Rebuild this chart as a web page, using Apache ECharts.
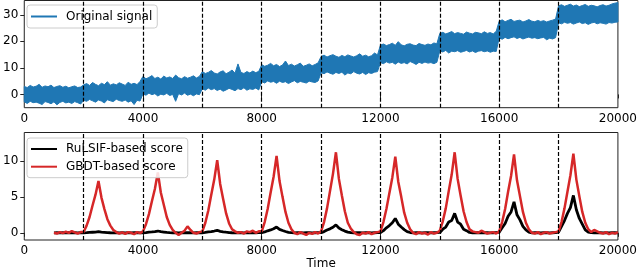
<!DOCTYPE html>
<html><head><meta charset="utf-8">
<script src="https://cdn.jsdelivr.net/npm/echarts@6/dist/echarts.min.js"></script>
<style>html,body{margin:0;padding:0;background:#fff}#c{width:640px;height:271px}</style>
</head><body><div id="c"></div>
<script>
// ---- data ----
const sigStart = 0, sigStep = 100;
const sigUpper = [
 3.0,2.6,3.4,2.8,3.1,3.8,2.7,3.2,2.9,3.5,2.6,3.0,3.3,2.7,3.1,2.5,2.9,3.2,2.6,2.8,
 3.6,4.1,3.4,4.5,3.8,3.3,4.2,3.7,4.8,3.5,4.0,3.6,4.4,3.9,3.4,4.6,3.8,4.2,3.7,4.9,
 6.8,5.9,6.4,7.1,6.0,6.5,5.8,6.9,6.2,6.6,6.0,7.3,6.3,5.9,6.7,6.1,6.5,7.0,6.2,6.8,
 8.6,7.9,8.3,9.0,8.1,7.7,8.5,8.9,7.8,8.4,9.2,8.0,11.5,8.3,7.9,8.6,8.1,8.8,8.2,8.7,
 11.2,10.6,11.0,11.7,10.8,11.3,10.5,11.1,12.6,10.9,11.4,10.7,11.2,11.8,10.6,11.0,11.5,10.8,11.3,11.9,
 14.3,14.8,14.1,14.6,15.0,14.4,14.0,14.7,14.2,14.9,14.5,14.1,14.6,15.3,14.4,14.8,14.2,14.6,15.6,14.9,
 18.6,19.0,18.4,18.8,19.3,18.5,19.9,18.7,18.3,18.9,19.1,18.6,18.4,19.2,18.8,18.5,19.0,18.7,19.4,19.1,
 23.0,23.4,22.8,23.2,23.7,22.9,23.3,23.0,22.7,23.5,23.1,22.8,23.4,23.2,22.9,23.6,23.0,23.3,22.8,23.8,
 27.6,28.1,27.4,27.9,28.3,27.5,27.8,28.0,27.3,27.7,28.2,27.6,27.4,27.9,27.5,27.8,27.3,27.7,28.0,28.4,
 33.4,33.8,33.2,33.6,34.0,33.3,33.7,33.1,33.5,33.9,33.2,33.6,33.4,33.0,33.5,33.8,33.3,33.6,34.1,34.4,34.6
];
const sigLower = [
 -2.8,-3.4,-2.6,-3.1,-2.9,-3.3,-3.8,-2.7,-3.0,-3.5,-2.8,-3.9,-3.0,-2.6,-3.2,-2.9,-3.4,-2.7,-3.1,-3.6,
 -2.2,-2.6,-1.9,-2.4,-2.9,-2.1,-2.5,-3.2,-2.0,-2.4,-2.7,-1.8,-2.3,-2.6,-2.1,-2.9,-2.4,-3.8,-2.2,-2.5,
 0.2,-0.3,0.5,-0.1,0.3,-0.6,0.1,-0.2,0.4,-0.4,0.0,-2.6,0.3,-0.2,0.5,-0.3,0.1,-0.5,0.2,-0.1,
 2.1,1.6,2.4,1.8,2.2,1.5,2.0,1.2,1.7,2.3,1.9,1.4,2.2,1.8,2.5,1.6,2.1,1.9,2.4,1.7,
 4.8,4.3,5.1,4.6,4.9,4.2,5.0,4.5,4.8,4.1,4.7,5.2,4.4,4.9,4.6,4.3,5.0,4.7,4.5,5.1,
 8.2,7.8,8.5,8.0,7.6,8.3,7.9,8.4,7.3,8.1,7.8,8.6,8.0,7.7,8.3,7.5,8.2,7.9,8.4,8.6,
 12.0,11.6,12.3,11.8,12.1,11.4,12.2,11.7,12.0,11.5,12.4,11.9,11.3,12.1,11.7,12.2,11.8,12.0,11.6,12.1,
 16.4,16.0,16.6,15.6,16.3,16.1,16.5,15.9,16.2,16.6,16.0,16.4,15.8,16.3,16.5,16.1,16.4,15.9,16.3,16.2,
 21.3,20.8,21.5,21.0,21.4,21.7,21.1,21.5,20.9,21.3,21.6,21.2,21.4,21.0,21.3,21.5,20.6,21.2,20.9,21.4,
 27.0,26.6,27.2,26.8,27.1,26.5,26.9,27.3,26.7,27.0,26.4,26.9,27.2,26.6,27.0,26.8,26.5,27.1,26.9,27.2,27.3
];
const scoreStart = 1000, scoreStep = 100;
const rulsif = [
 0.0,0.02,0.0,0.01,0.0,0.02,0.0,0.01,0.0,0.02,
 0.0,0.02,0.05,0.08,0.1,0.15,0.09,0.06,0.03,0.01,0.0,
 0.01,0.0,0.02,0.0,0.01,0.0,0.02,0.01,0.0,
 0.0,0.04,0.09,0.12,0.18,0.25,0.15,0.1,0.05,0.02,0.0,
 0.01,0.0,0.02,0.01,0.03,0.01,0.0,0.02,0.01,
 0.01,0.05,0.12,0.18,0.25,0.35,0.21,0.14,0.08,0.03,0.01,
 0.0,0.02,0.01,0.0,0.02,0.01,0.0,0.01,0.02,
 0.02,0.12,0.28,0.4,0.56,0.8,0.48,0.32,0.18,0.06,0.02,
 0.0,0.02,0.01,0.0,0.02,0.01,0.0,0.01,0.02,
 0.02,0.17,0.39,0.55,0.77,1.1,0.66,0.44,0.24,0.09,0.02,
 0.0,0.02,0.01,0.0,0.02,0.01,0.0,0.01,0.02,
 0.04,0.3,0.7,1.0,1.4,2.0,1.2,0.8,0.44,0.16,0.04,
 0.0,0.02,0.01,0.0,0.02,0.01,0.0,0.01,0.02,
 0.05,0.5,0.8,1.5,1.7,2.7,1.5,1.2,0.5,0.3,0.05,
 0.0,0.02,0.01,0.0,0.02,0.01,0.0,0.01,0.02,
 0.1,0.7,1.3,2.3,2.9,4.3,2.5,1.8,0.9,0.4,0.1,
 0.0,0.02,0.01,0.0,0.02,0.01,0.0,0.01,0.02,
 0.1,0.9,1.7,2.7,3.5,5.2,3.2,2.0,1.2,0.4,0.1,
 0.02,0.0,0.01,0.03,0.0,0.01,0.0,0.02,0.01,0.0
];
const gbdt = [
 0.0,-0.1,0.1,-0.05,0.15,0.0,0.25,0.05,-0.1,0.1,
 0.1,1.0,2.2,3.8,5.3,7.2,4.9,3.3,1.9,1.0,0.4,
 0.1,-0.1,0.05,-0.15,0.1,0.0,-0.2,0.1,-0.05,
 0.2,1.2,2.6,4.4,6.1,8.4,5.6,3.9,2.2,1.1,0.4,
 0.0,-0.3,0.0,0.3,0.9,0.4,0.0,-0.1,0.1,
 0.2,1.4,3.1,5.3,7.4,10.1,6.8,4.7,2.7,1.3,0.5,
 0.2,0.0,0.1,-0.1,0.2,0.1,0.3,0.0,0.2,
 0.2,1.5,3.3,5.6,7.8,10.7,7.2,5.0,2.9,1.4,0.5,
 0.0,-0.2,0.1,-0.1,-0.3,0.0,-0.15,0.1,-0.1,
 0.2,1.5,3.4,5.8,8.2,11.2,7.5,5.2,3.0,1.4,0.6,
 0.1,-0.2,-0.3,0.0,-0.1,0.1,-0.2,0.0,0.1,
 0.2,1.5,3.3,5.5,7.7,10.6,7.1,5.0,2.8,1.4,0.5,
 0.0,-0.2,0.1,-0.1,0.0,-0.25,0.1,-0.1,0.0,
 0.3,1.6,3.4,5.8,8.1,11.2,7.5,5.2,3.0,1.5,0.5,
 0.2,0.1,0.0,0.3,0.1,-0.1,0.0,0.1,-0.1,
 0.2,1.5,3.3,5.7,7.9,10.9,7.3,5.1,2.9,1.4,0.5,
 0.0,-0.1,0.1,-0.2,0.0,0.1,-0.1,0.0,0.1,
 0.2,1.5,3.4,5.7,8.0,11.0,7.4,5.1,2.9,1.4,0.5,
 0.1,0.4,0.2,0.0,-0.1,0.1,-0.2,0.0,-0.1,0.1
];
const changePoints = [2000,4000,6000,8000,10000,12000,14000,16000,18000];
const topYTicks = [0,10,20,30];
const botYTicks = [0,5,10];
const names = ['Original signal','RuLSIF-based score','GBDT-based score'];

// ---- chart ----
const FONT = 'DejaVu Sans';
const chart = echarts.init(document.getElementById('c'), null, {renderer:'canvas'});
const sigData = sigUpper.map((u,i)=>[sigStart + i*sigStep, sigLower[i], u]);
const rulData = rulsif.map((v,i)=>[scoreStart + i*scoreStep, v]);
const gbData = gbdt.map((v,i)=>[scoreStart + i*scoreStep, v]);

function xAxisCfg(gi, withName){
  return {
    type:'value', gridIndex:gi, min:0, max:20000, interval:4000,
    axisLine:{show:false}, splitLine:{show:false},
    axisTick:{show:true, length:4, lineStyle:{color:'#222', width:1}},
    axisLabel:{color:'#000', fontFamily:FONT, fontSize:12, margin:5, formatter:v=>String(v)},
    name: withName ? 'Time' : '', nameLocation:'middle', nameGap:17,
    nameTextStyle:{color:'#000', fontFamily:FONT, fontSize:12}
  };
}
function yAxisCfg(gi, mn, mx, ticks){
  return {
    type:'value', gridIndex:gi, min:mn, max:mx,
    axisLine:{show:false}, splitLine:{show:false},
    axisTick:{show:true, length:4, customValues:ticks, lineStyle:{color:'#222', width:1}},
    axisLabel:{color:'#000', fontFamily:FONT, fontSize:12, margin:6, customValues:ticks}
  };
}
const markLineCfg = {
  silent:true, symbol:['none','none'], label:{show:false},
  lineStyle:{color:'#000', type:[4,2], width:1.2},
  emphasis:{disabled:true},
  data: changePoints.map(v=>({xAxis:v}))
};

chart.setOption({
  animation:false,
  grid:[
    {left:20.5, right:19.5, top:0.5, height:107.2, show:true, borderColor:'#222', borderWidth:1, backgroundColor:'transparent'},
    {left:20.5, right:19.5, top:132.5, height:107.5, show:true, borderColor:'#222', borderWidth:1, backgroundColor:'transparent'}
  ],
  xAxis:[xAxisCfg(0,false), xAxisCfg(1,true)],
  yAxis:[yAxisCfg(0,-5,35.4,topYTicks), yAxisCfg(1,-1,13.95,botYTicks)],
  legend:[
    {data:[names[0]], left:27, top:5, orient:'vertical', icon:'rect', itemWidth:26, itemHeight:2,
     padding:[4.5,5,4.5,4], backgroundColor:'rgba(255,255,255,0.85)', borderColor:'#ccc', borderWidth:1, borderRadius:3,
     textStyle:{color:'#000', fontFamily:FONT, fontSize:12, lineHeight:14, padding:[0,0,0,4]}},
    {data:[names[1],names[2]], left:27, top:138, orient:'vertical', icon:'rect', itemWidth:26, itemHeight:2, itemGap:3.7,
     padding:[4,5,4,4], backgroundColor:'rgba(255,255,255,0.85)', borderColor:'#ccc', borderWidth:1, borderRadius:3,
     textStyle:{color:'#000', fontFamily:FONT, fontSize:12, lineHeight:14, padding:[0,0,0,4]}}
  ],
  series:[
    {
      name:names[0], type:'custom', xAxisIndex:0, yAxisIndex:0,
      itemStyle:{color:'#1f77b4'},
      encode:{x:0, y:[1,2]},
      data: sigData,
      renderItem:function(params, api){
        if (params.dataIndex !== 0) return null;
        const pts = [];
        for (let i=0;i<sigUpper.length;i++) pts.push(api.coord([sigStart+i*sigStep, sigUpper[i]]));
        for (let i=sigLower.length-1;i>=0;i--) pts.push(api.coord([sigStart+i*sigStep, sigLower[i]]));
        return {type:'polygon', shape:{points:pts}, style:{fill:'#1f77b4', stroke:'#1f77b4', lineWidth:1}};
      },
      z:2
    },
    {
      name:'cp1', type:'line', xAxisIndex:0, yAxisIndex:0, data:[], z:5, markLine:markLineCfg
    },
    {
      name:names[1], type:'line', xAxisIndex:1, yAxisIndex:1, data:rulData, symbol:'none',
      itemStyle:{color:'#000'}, lineStyle:{color:'#000', width:2.8}, z:2
    },
    {
      name:names[2], type:'line', xAxisIndex:1, yAxisIndex:1, data:gbData, symbol:'none',
      itemStyle:{color:'#d62728'}, lineStyle:{color:'#d62728', width:2.5}, z:3
    },
    {
      name:'cp2', type:'line', xAxisIndex:1, yAxisIndex:1, data:[], z:5, markLine:markLineCfg
    }
  ]
});
</script></body></html>
